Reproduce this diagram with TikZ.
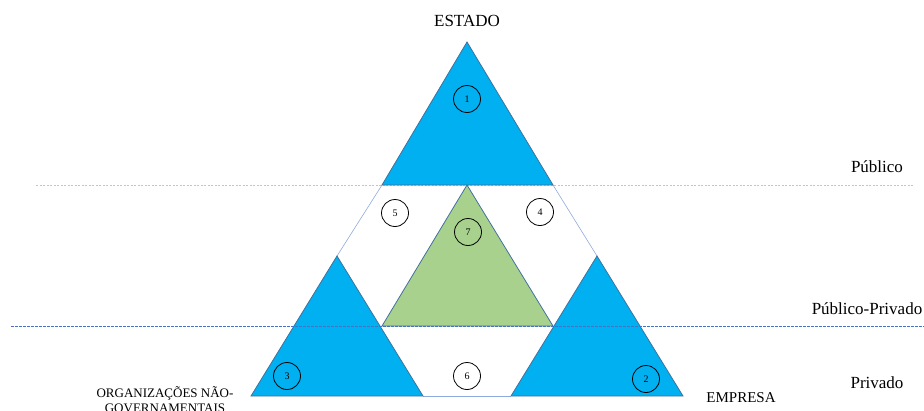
\documentclass[tikz,border=0pt]{standalone}
\usepackage{fontspec}
\setmainfont{Liberation Serif}
\definecolor{triblue}{HTML}{00B0F0}
\definecolor{trigreen}{HTML}{A9D18E}
\definecolor{edgeblue}{HTML}{41719C}
\definecolor{hexline}{HTML}{8FAADC}
\definecolor{dashlight}{HTML}{B4C7E7}
\definecolor{dashdark}{HTML}{4472C4}
\tikzset{
  bluetri/.style={fill=triblue, draw=edgeblue, line width=0.8pt, line join=miter},
  greentri/.style={fill=trigreen, draw=edgeblue, line width=0.8pt},
  hexedge/.style={draw=hexline, line width=0.6pt},
  numcirc/.style={circle, draw=black, line width=0.8pt, minimum size=27pt, inner sep=0pt, font=\fontsize{10}{12}\selectfont},
  lbl/.style={font=\fontsize{17}{20}\selectfont, inner sep=0pt},
}
\begin{document}
\begin{tikzpicture}[x=1pt,y=-1pt]
\useasboundingbox (0,0) rectangle (924,410);
% key points
\coordinate (A) at (467,42);
\coordinate (T1) at (382,185);
\coordinate (T2) at (553,185);
\coordinate (L0) at (337,256);
\coordinate (L1) at (251,396);
\coordinate (L2) at (423,396);
\coordinate (R0) at (597,256);
\coordinate (R1) at (511,396);
\coordinate (R2) at (683,396);
\coordinate (G0) at (467,185);
\coordinate (G1) at (382,326);
\coordinate (G2) at (553,326);
% hexagon outline
\draw[hexedge] (T1) -- (L0);
\draw[hexedge] (T2) -- (R0);
\draw[hexedge] (L2) -- (R1);
% dashed top line
\coordinate (D1a) at (36,185);
\coordinate (D1b) at (913,185);
\draw[dashlight, dashed, dash pattern=on 2pt off 1.5pt, line width=0.6pt] (D1a) -- (D1b);
% triangles
\path[bluetri] (A) -- (T2) -- (T1) -- cycle;
\path[bluetri] (L0) -- (L2) -- (L1) -- cycle;
\path[bluetri] (R0) -- (R2) -- (R1) -- cycle;
\path[greentri] (G0) -- (G2) -- (G1) -- cycle;
% dashed lower line
\coordinate (D2a) at (11,326);
\coordinate (D2b) at (924,326);
\draw[dashdark, dashed, dash pattern=on 2.5pt off 1.5pt, line width=0.6pt] (D2a) -- (D2b);
% numbered circles
\node[numcirc] (c1) at (467,99) {1};
\node[numcirc] (c2) at (646,379) {2};
\node[numcirc] (c3) at (287,376) {3};
\node[numcirc] (c4) at (540,212) {4};
\node[numcirc] (c5) at (395,213) {5};
\node[numcirc] (c6) at (467,376) {6};
\node[numcirc] (c7) at (468,232) {7};
% labels
\node[lbl] (estado) at (467,21) {ESTADO};
\node[lbl] (publico) at (877,167) {Público};
\node[lbl] (pubpriv) at (867,309) {Público-Privado};
\node[lbl] (privado) at (877,383) {Privado};
\node[font=\fontsize{15}{18}\selectfont, inner sep=0pt] (empresa) at (741,398) {EMPRESA};
\node[font=\fontsize{13}{15}\selectfont, inner sep=0pt, align=center, anchor=north] (ong) at (165,386) {ORGANIZAÇÕES NÃO-\\GOVERNAMENTAIS};
\end{tikzpicture}
\end{document}
